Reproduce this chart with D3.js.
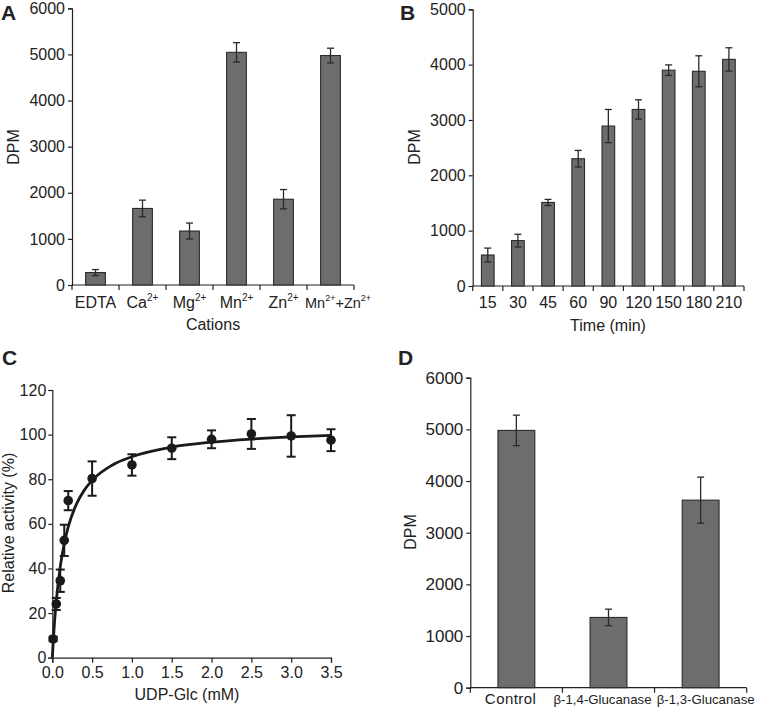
<!DOCTYPE html>
<html><head><meta charset="utf-8">
<script src="https://cdn.jsdelivr.net/npm/d3@7"></script>
<style>body{margin:0;background:#fff}text{font-family:"Liberation Sans",Arial,sans-serif;fill:#222}</style>
</head><body>
<svg id="c" width="762" height="711"></svg>
<script>
// Panel A
const catsA = ["EDTA","Ca","Mg","Mn","Zn","Mn+Zn"];
const valsA = [270,1660,1170,5045,1860,4975];
const errA = [65,180,173,210,210,160];
const ticksA = [0,1000,2000,3000,4000,5000,6000];
// Panel B
const catsB = ["15","30","45","60","90","120","150","180","210"];
const valsB = [560,820,1510,2300,2890,3190,3900,3880,4095];
const errB = [125,115,55,150,300,175,95,280,210];
const ticksB = [0,1000,2000,3000,4000,5000];
// Panel C
const xC = [0.01,0.05,0.1,0.15,0.2,0.5,1.0,1.5,2.0,2.5,3.0,3.5];
const yC = [8.4,24.1,34.5,52.6,70.4,80.3,86.4,93.9,97.9,100.3,99.4,97.5];
const errC = [1,2.7,5,7,4.3,7.7,4.8,4.9,4,6.7,9.3,4.9];
const curveXC = [0,0.01,0.02,0.03,0.05,0.1,0.15,0.2,0.3,0.4,0.5,0.75,1.0,1.5,2.0,2.5,3.0,3.5];
const curveYC = [0,6.3,11.9,16.9,25.4,40.8,51.2,58.6,68.6,75.0,79.5,86.3,90.1,94.4,96.6,98.0,99.0,99.7];
const ticksCx = [0,0.5,1.0,1.5,2.0,2.5,3.0,3.5];
const ticksCy = [0,20,40,60,80,100,120];
// Panel D
const catsD = ["Control","β-1,4-Glucanase","β-1,3-Glucanase"];
const valsD = [4980,1360,3630];
const errD = [295,160,445];
const ticksD = [0,1000,2000,3000,4000,5000,6000];

const svg = d3.select("#c");
const ink = "#222";

function styleAxis(g, fs){
  g.attr("font-size", fs).attr("font-family","Liberation Sans, Arial, sans-serif");
  g.select(".domain").attr("stroke", ink).attr("stroke-width",1.2);
  g.selectAll(".tick line").attr("stroke", ink).attr("stroke-width",1.2);
  g.selectAll(".tick text").attr("fill", ink);
}

function barPanel(o){
  const x = d3.scaleBand().domain(o.cats).range([o.x0,o.x1]).paddingInner(o.pad).paddingOuter(o.pad/2);
  const y = d3.scaleLinear().domain([0,o.ymax]).range([o.y0,o.y1]);
  const g = svg.append("g");
  const ya = g.append("g").attr("transform",`translate(${o.x0},0)`)
    .call(d3.axisLeft(y).tickValues(o.yticks).tickSize(4).tickPadding(3).tickFormat(d3.format("d")));
  styleAxis(ya, o.yfs || 16);
  const xa = g.append("g").attr("transform",`translate(0,${o.y0})`);
  xa.append("line").attr("x1",o.x0).attr("x2",o.x1).attr("y1",0).attr("y2",0).attr("stroke",ink).attr("stroke-width",1.2);
  const bounds = d3.range(o.cats.length+1).map(i=>o.x0 + i*(o.x1-o.x0)/o.cats.length);
  xa.selectAll("line.t").data(bounds).join("line").attr("class","t")
    .attr("x1",d=>d).attr("x2",d=>d).attr("y1",0).attr("y2",5).attr("stroke",ink).attr("stroke-width",1.2);
  g.selectAll("rect").data(o.vals).join("rect")
    .attr("x",(d,i)=>x(o.cats[i])).attr("width",x.bandwidth())
    .attr("y",d=>y(d)).attr("height",d=>o.y0-y(d))
    .attr("fill","#6d6d6d").attr("stroke","#2a2a2a").attr("stroke-width",1.1);
  const cw = o.cap;
  o.vals.forEach((v,i)=>{
    const cx = x(o.cats[i]) + x.bandwidth()/2;
    const e = o.errs[i];
    g.append("line").attr("x1",cx).attr("x2",cx).attr("y1",y(v+e)).attr("y2",y(v-e)).attr("stroke","#2a2a2a").attr("stroke-width",1.3);
    [v+e,v-e].forEach(t=>g.append("line").attr("x1",cx-cw/2).attr("x2",cx+cw/2).attr("y1",y(t)).attr("y2",y(t)).attr("stroke","#2a2a2a").attr("stroke-width",1.3));
  });
  return {x,y,g};
}

// ---- A
const A = barPanel({cats:catsA, vals:valsA, errs:errA, x0:72, x1:354, y0:285, y1:8.3, ymax:6000, yticks:ticksA, pad:0.58, cap:7});
const supA = [null,"2+","2+","2+","2+",null];
catsA.forEach((c,i)=>{
  const cx = A.x(c)+A.x.bandwidth()/2;
  const t = svg.append("text").attr("x",cx).attr("y",308).attr("text-anchor","middle").style("font-size","16px");
  if(c==="Mn+Zn"){
    t.attr("x", 305).attr("text-anchor","start").style("font-size","14.5px");
    t.append("tspan").text("Mn");
    t.append("tspan").text("2+").style("font-size","9px").attr("dy",-7);
    t.append("tspan").text("+Zn").attr("dy",7);
    t.append("tspan").text("2+").style("font-size","9px").attr("dy",-7);
  } else {
    t.append("tspan").text(c);
    if(supA[i]) t.append("tspan").text(supA[i]).style("font-size","10px").attr("dy",-7);
  }
});
svg.append("text").attr("x",213).attr("y",330).attr("text-anchor","middle").style("font-size","16px").text("Cations");
svg.append("text").attr("transform","translate(19,147) rotate(-90)").attr("text-anchor","middle").style("font-size","16px").text("DPM");
svg.append("text").attr("x",1).attr("y",20).style("font-size","21px").style("font-weight","bold").text("A");

// ---- B
const B = barPanel({cats:catsB, vals:valsB, errs:errB, x0:472.7, x1:744, y0:286, y1:9.3, ymax:5000, yticks:ticksB, pad:0.58, cap:7});
catsB.forEach(c=>{
  svg.append("text").attr("x",B.x(c)+B.x.bandwidth()/2).attr("y",308).attr("text-anchor","middle").style("font-size","16px").text(c);
});
svg.append("text").attr("x",608).attr("y",331).attr("text-anchor","middle").style("font-size","16px").text("Time (min)");
svg.append("text").attr("transform","translate(420,147) rotate(-90)").attr("text-anchor","middle").style("font-size","16px").text("DPM");
svg.append("text").attr("x",400).attr("y",20).style("font-size","21px").style("font-weight","bold").text("B");

// ---- C
const xc = d3.scaleLinear().domain([0,3.5]).range([52.3,331]);
const yc = d3.scaleLinear().domain([0,120]).range([657.7,390]);
const gC = svg.append("g");
const xaC = gC.append("g").attr("transform","translate(0,657.7)")
  .call(d3.axisBottom(xc).tickValues(ticksCx).tickSize(5).tickPadding(4).tickFormat(d3.format(".1f")));
styleAxis(xaC, 16);
const yaC = gC.append("g").attr("transform","translate(52.3,0)")
  .call(d3.axisLeft(yc).tickValues(ticksCy).tickSize(4).tickPadding(2));
styleAxis(yaC, 16);
gC.append("path").datum(curveXC.map((d,i)=>[d,curveYC[i]]))
  .attr("d", d3.line().x(d=>xc(d[0])).y(d=>yc(d[1])).curve(d3.curveMonotoneX))
  .attr("fill","none").attr("stroke","#1a1a1a").attr("stroke-width",2.8);
xC.forEach((xv,i)=>{
  const cx = xc(xv), e = errC[i], v = yC[i];
  gC.append("line").attr("x1",cx).attr("x2",cx).attr("y1",yc(v+e)).attr("y2",yc(v-e)).attr("stroke","#1a1a1a").attr("stroke-width",2);
  [v+e,v-e].forEach(t=>gC.append("line").attr("x1",cx-4.5).attr("x2",cx+4.5).attr("y1",yc(t)).attr("y2",yc(t)).attr("stroke","#1a1a1a").attr("stroke-width",2));
});
gC.selectAll("circle").data(xC).join("circle")
  .attr("cx",d=>xc(d)).attr("cy",(d,i)=>yc(yC[i])).attr("r",4.8).attr("fill","#1a1a1a");
svg.append("text").attr("x",187).attr("y",700).attr("text-anchor","middle").style("font-size","16px").text("UDP-Glc (mM)");
svg.append("text").attr("transform","translate(14,523) rotate(-90)").attr("text-anchor","middle").style("font-size","16px").text("Relative activity (%)");
svg.append("text").attr("x",2).attr("y",365).style("font-size","21px").style("font-weight","bold").text("C");

// ---- D
const D = barPanel({cats:catsD, vals:valsD, errs:errD, x0:470.3, x1:746.7, y0:687.7, y1:377.7, ymax:6000, yticks:ticksD, pad:0.6, cap:7, yfs:17});
const labShiftD = [-6,-6,5];
const labLenD = [51,98,98];
const labFsD = [15,13.5,13.5];
catsD.forEach((c,i)=>{
  svg.append("text").attr("x",D.x(c)+D.x.bandwidth()/2+labShiftD[i]).attr("y",704).attr("text-anchor","middle").style("font-size",labFsD[i]+"px").text(c)
    .attr("textLength",labLenD[i]).attr("lengthAdjust", i>0 ? "spacingAndGlyphs" : "spacing");
});
svg.append("text").attr("transform","translate(416,532) rotate(-90)").attr("text-anchor","middle").style("font-size","16px").text("DPM");
svg.append("text").attr("x",398).attr("y",365).style("font-size","21px").style("font-weight","bold").text("D");
</script>
</body></html>
